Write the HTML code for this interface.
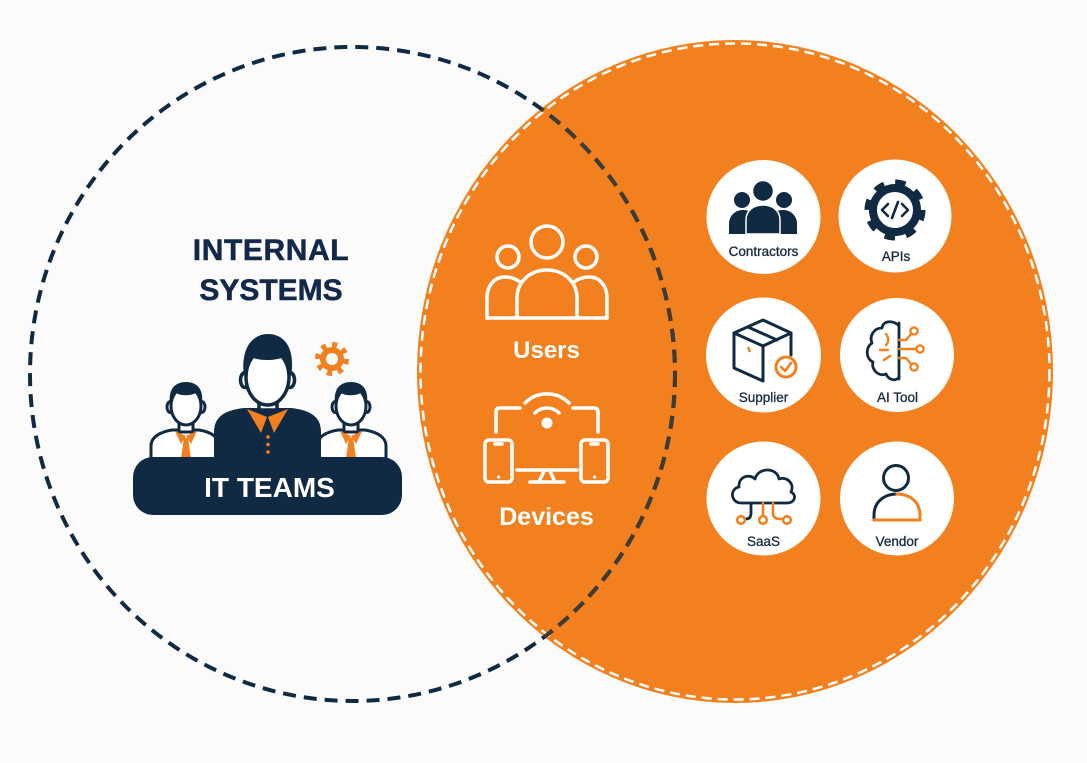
<!DOCTYPE html>
<html>
<head>
<meta charset="utf-8">
<style>
html,body{margin:0;padding:0;background:#fbfbfb;}
svg{display:block;}
text{font-family:"Liberation Sans",Arial,sans-serif;}
</style>
</head>
<body>
<svg width="1087" height="763" viewBox="0 0 1087 763" xmlns="http://www.w3.org/2000/svg">
<defs>
<clipPath id="oc"><ellipse cx="735" cy="371.5" rx="318" ry="331.5"/></clipPath>
</defs>
<rect x="0" y="0" width="1087" height="763" fill="#fbfbfb"/>

<!-- Orange circle -->
<ellipse cx="735" cy="371.5" rx="318" ry="331.5" fill="#f3801e"/>
<ellipse cx="735" cy="371.5" rx="314.5" ry="328" fill="none" stroke="#ffffff" stroke-width="2.5" stroke-dasharray="10 6"/>

<!-- Left dashed circle -->
<ellipse cx="352.5" cy="374" rx="322.5" ry="327" fill="none" stroke="#102a43" stroke-width="4" stroke-dasharray="13 8"/>
<g clip-path="url(#oc)">
<ellipse cx="352.5" cy="374" rx="322.5" ry="327" fill="none" stroke="#3d3b35" stroke-width="4" stroke-dasharray="13 8"/>
</g>

<!-- INTERNAL SYSTEMS -->
<text x="271" y="260" text-anchor="middle" font-size="30" font-weight="bold" fill="#13294a" letter-spacing="0.6" stroke="#13294a" stroke-width="0.5">INTERNAL</text>
<text x="271" y="300" text-anchor="middle" font-size="30" font-weight="bold" fill="#13294a" stroke="#13294a" stroke-width="0.5">SYSTEMS</text>

<!-- Gear (orange) -->
<g>
<circle cx="332" cy="359" r="14" fill="none" stroke="#f3801e" stroke-width="6" stroke-dasharray="5 6"/>
<circle cx="332" cy="359" r="12" fill="#f3801e"/>
<circle cx="332" cy="359" r="6" fill="#fbfbfb"/>
</g>

<!-- Left person -->
<g stroke="#102a43" stroke-width="3" stroke-linejoin="round">
<path d="M151,462 L151,446 C151,437 160,432 172,430 L199,430 C211,432 219,437 219,446 L219,462 Z" fill="#ffffff"/>
<rect x="179" y="420" width="14" height="12" fill="#ffffff"/>
<ellipse cx="170.5" cy="407" rx="3.5" ry="5.5" fill="#ffffff"/>
<ellipse cx="201.5" cy="407" rx="3.5" ry="5.5" fill="#ffffff"/>
<ellipse cx="186" cy="406" rx="15" ry="19" fill="#ffffff"/>
</g>
<path d="M170,404 C168,388 176,382 186,382 C196,382 204,388 202,404 C200,397 198,394 196,393 C190,396 181,396 176,393 C173,395 171,398 170,404 Z" fill="#102a43"/>
<polygon points="175,431 186,436 181,444" fill="#f3801e"/>
<polygon points="197,431 186,436 191,444" fill="#f3801e"/>
<polygon points="184,438 188,438 191,458 181,458" fill="#f3801e"/>

<!-- Right person -->
<g stroke="#102a43" stroke-width="3" stroke-linejoin="round">
<path d="M317,462 L317,446 C317,437 326,432 338,430 L365,430 C377,432 386,437 386,446 L386,462 Z" fill="#ffffff"/>
<rect x="344" y="420" width="14" height="12" fill="#ffffff"/>
<ellipse cx="335.5" cy="407" rx="3.5" ry="5.5" fill="#ffffff"/>
<ellipse cx="366.5" cy="407" rx="3.5" ry="5.5" fill="#ffffff"/>
<ellipse cx="351" cy="406" rx="15" ry="19" fill="#ffffff"/>
</g>
<path d="M335,404 C333,388 341,382 351,382 C361,382 369,388 367,404 C365,397 363,394 361,393 C355,396 346,396 341,393 C338,395 336,398 335,404 Z" fill="#102a43"/>
<polygon points="340,431 351,436 346,444" fill="#f3801e"/>
<polygon points="362,431 351,436 356,444" fill="#f3801e"/>
<polygon points="349,438 353,438 356,458 346,458" fill="#f3801e"/>

<!-- Center person -->
<path d="M214,462 L214,432 C214,416 226,410 244,408 L291,408 C309,410 321,416 321,432 L321,462 Z" fill="#102a43"/>
<g stroke="#102a43" stroke-width="3.5" stroke-linejoin="round">
<rect x="259" y="396" width="18" height="14" fill="#ffffff"/>
<ellipse cx="245" cy="380" rx="4.5" ry="7.5" fill="#ffffff"/>
<ellipse cx="290" cy="380" rx="4.5" ry="7.5" fill="#ffffff"/>
<ellipse cx="267.5" cy="377" rx="21.5" ry="28" fill="#ffffff"/>
</g>
<path d="M244,377 C240,346 254,334 268,334 C283,334 296,346 291,377 C289,366 287,360 284,357 C275,361 259,361 251,357 C247,361 245,367 244,377 Z" fill="#102a43"/>
<polygon points="247,409 267,417 261,433" fill="#f3801e"/>
<polygon points="288,409 268,417 274,433" fill="#f3801e"/>
<circle cx="268" cy="437" r="1.8" fill="#f3801e"/>
<circle cx="268" cy="444.5" r="1.8" fill="#f3801e"/>
<circle cx="268" cy="452" r="1.8" fill="#f3801e"/>

<!-- IT TEAMS pill -->
<rect x="133" y="457" width="269" height="58" rx="20" fill="#102a43"/>
<text x="269.5" y="497" text-anchor="middle" font-size="28" font-weight="bold" fill="#ffffff">IT TEAMS</text>

<!-- Users icon -->
<g fill="none" stroke="#ffffff" stroke-width="3.5" stroke-linecap="round" stroke-linejoin="round">
<circle cx="547" cy="242" r="16"/>
<circle cx="508" cy="257" r="11"/>
<circle cx="586" cy="257" r="11"/>
<path d="M517,318 L517,298 C517,282 530,270 547,270 C564,270 577,282 577,298 L577,318"/>
<path d="M520,282 C516,279 511,277 505,277 C494,277 487,286 487,298 L487,318"/>
<path d="M574,282 C578,279 583,277 589,277 C600,277 607,286 607,298 L607,318"/>
<path d="M487,318 L607,318"/>
</g>
<text x="546.5" y="358" text-anchor="middle" font-size="24" font-weight="bold" fill="#ffffff">Users</text>

<!-- Devices icon -->
<g fill="none" stroke="#ffffff" stroke-width="3.5" stroke-linecap="round" stroke-linejoin="round">
<path d="M535,413 A17,17 0 0 1 559,413"/>
<path d="M525,403 A31,31 0 0 1 569,403"/>
<path d="M496,432 L496,412 Q496,408 500,408 L520,408"/>
<path d="M598,432 L598,412 Q598,408 594,408 L573,408"/>
<rect x="485" y="440" width="27" height="42" rx="4"/>
<rect x="581" y="440" width="27" height="42" rx="4"/>
<path d="M495,444 L502,444"/>
<path d="M591,444 L598,444"/>
<path d="M517,470 L577,470"/>
<path d="M544,471 L539,482 M550,471 L555,482"/>
<path d="M530,482 L564,482"/>
</g>
<circle cx="547" cy="423" r="5.5" fill="#ffffff"/>
<circle cx="498.5" cy="477" r="1.6" fill="#ffffff"/>
<circle cx="594.5" cy="477" r="1.6" fill="#ffffff"/>
<text x="546.5" y="525" text-anchor="middle" font-size="25" font-weight="bold" fill="#ffffff">Devices</text>

<!-- White circles -->
<circle cx="763.5" cy="217" r="57" fill="#ffffff"/>
<circle cx="895" cy="216" r="56.5" fill="#ffffff"/>
<circle cx="763.5" cy="355" r="57.5" fill="#ffffff"/>
<circle cx="897" cy="355" r="57" fill="#ffffff"/>
<circle cx="763.5" cy="498.5" r="57" fill="#ffffff"/>
<circle cx="897" cy="498.5" r="57" fill="#ffffff"/>

<!-- Contractors icon -->
<g fill="#102a43">
<circle cx="742" cy="200" r="8"/>
<circle cx="784" cy="200" r="8"/>
<path d="M729,234 L729,224 C729,215 736,210 743,210 C749,210 753,213 755,216 L755,234 Z"/>
<path d="M797,234 L797,224 C797,215 790,210 783,210 C777,210 773,213 771,216 L771,234 Z"/>
<circle cx="763" cy="191" r="10.5" fill="#102a43" stroke="#ffffff" stroke-width="1.5"/>
<path d="M746,234 L746,220 C746,211 753,205 763,205 C773,205 780,211 780,220 L780,234 Z" stroke="#ffffff" stroke-width="1.5"/>
</g>
<g font-size="13.5" fill="#1b2d44" stroke="#1b2d44" stroke-width="0.35" text-anchor="middle">
<text x="763.5" y="256">Contractors</text>
<text x="896" y="261">APIs</text>
<text x="763.5" y="402">Supplier</text>
<text x="897.5" y="402">AI Tool</text>
<text x="763.5" y="546">SaaS</text>
<text x="897" y="546">Vendor</text>
</g>

<!-- APIs icon -->
<g>
<circle cx="895" cy="210" r="27" fill="none" stroke="#102a43" stroke-width="7" stroke-dasharray="10.2 11"/>
<circle cx="895" cy="210" r="22" fill="#ffffff" stroke="#102a43" stroke-width="8"/>
<g fill="none" stroke="#102a43" stroke-width="2.6" stroke-linecap="round" stroke-linejoin="round">
<path d="M888,204 L882,210 L888,216"/>
<path d="M902,204 L908,210 L902,216"/>
<path d="M898,202 L892,218"/>
</g>
</g>

<!-- Supplier icon -->
<g fill="none" stroke="#102a43" stroke-width="3" stroke-linejoin="round" stroke-linecap="round">
<path d="M734,333 L763,320 L791,333 L763,346 Z"/>
<path d="M734,333 L734,368 L763,381 L763,346"/>
<path d="M791,333 L791,355"/>
<path d="M748,327 L777,340"/>
</g>
<path d="M748,347 L750,352" stroke="#f3801e" stroke-width="2.5"/>
<circle cx="786" cy="367" r="10" fill="#ffffff" stroke="#f3801e" stroke-width="3"/>
<path d="M781,367 L785,371 L791,363" fill="none" stroke="#f3801e" stroke-width="2.6" stroke-linecap="round" stroke-linejoin="round"/>

<!-- AI Tool icon -->
<g fill="none" stroke="#102a43" stroke-width="2.8" stroke-linecap="round" stroke-linejoin="round">
<path d="M899,323 L899,379"/>
<path d="M899,326 C894,320 883,320 882,328 C874,328 869,336 872,343 C865,348 866,359 873,362 C871,370 879,377 886,374 C889,381 897,381 899,377"/>
</g>
<g fill="none" stroke="#f3801e" stroke-width="2.4" stroke-linecap="round" stroke-linejoin="round">
<path d="M886,334 C889,338 889,342 886,345"/>
<path d="M880,350 L888,350"/>
<path d="M884,360 L890,356"/>
<path d="M899,340 L906,340 L911,334"/>
<path d="M899,349 L916,349"/>
<path d="M899,358 L906,358 L911,364"/>
<circle cx="914" cy="331" r="3.6" fill="#ffffff"/>
<circle cx="920" cy="349" r="3.6" fill="#ffffff"/>
<circle cx="914" cy="367" r="3.6" fill="#ffffff"/>
</g>

<!-- SaaS icon -->
<g fill="none" stroke="#102a43" stroke-width="2.8" stroke-linecap="round" stroke-linejoin="round">
<path d="M741,503 C731,503 729,489 739,487 C738,477 749,473 755,479 C758,467 777,467 779,479 C787,476 795,484 791,492 C797,495 795,503 787,503 Z"/>
<path d="M751,503 L751,513 Q751,519 746,519"/>
</g>
<g fill="none" stroke="#f3801e" stroke-width="2.6" stroke-linecap="round">
<path d="M763,503 L763,515"/>
<path d="M773,503 L773,513 Q773,519 780,519 L783,519"/>
<circle cx="741" cy="520" r="3.8" fill="#ffffff"/>
<circle cx="763" cy="520" r="3.8" fill="#ffffff"/>
<circle cx="787" cy="520" r="3.8" fill="#ffffff"/>
</g>

<!-- Vendor icon -->
<circle cx="896" cy="478" r="12.5" fill="none" stroke="#102a43" stroke-width="3"/>
<path d="M874,520 L874,515 C874,502 884,494 897,494" fill="none" stroke="#102a43" stroke-width="3" stroke-linecap="round"/>
<path d="M897,494 C910,494 920,502 920,515 L920,520" fill="none" stroke="#f3801e" stroke-width="3" stroke-linecap="round"/>
<path d="M874,520 L920,520" stroke="#f3801e" stroke-width="3" stroke-linecap="round"/>
</svg>
</body>
</html>
